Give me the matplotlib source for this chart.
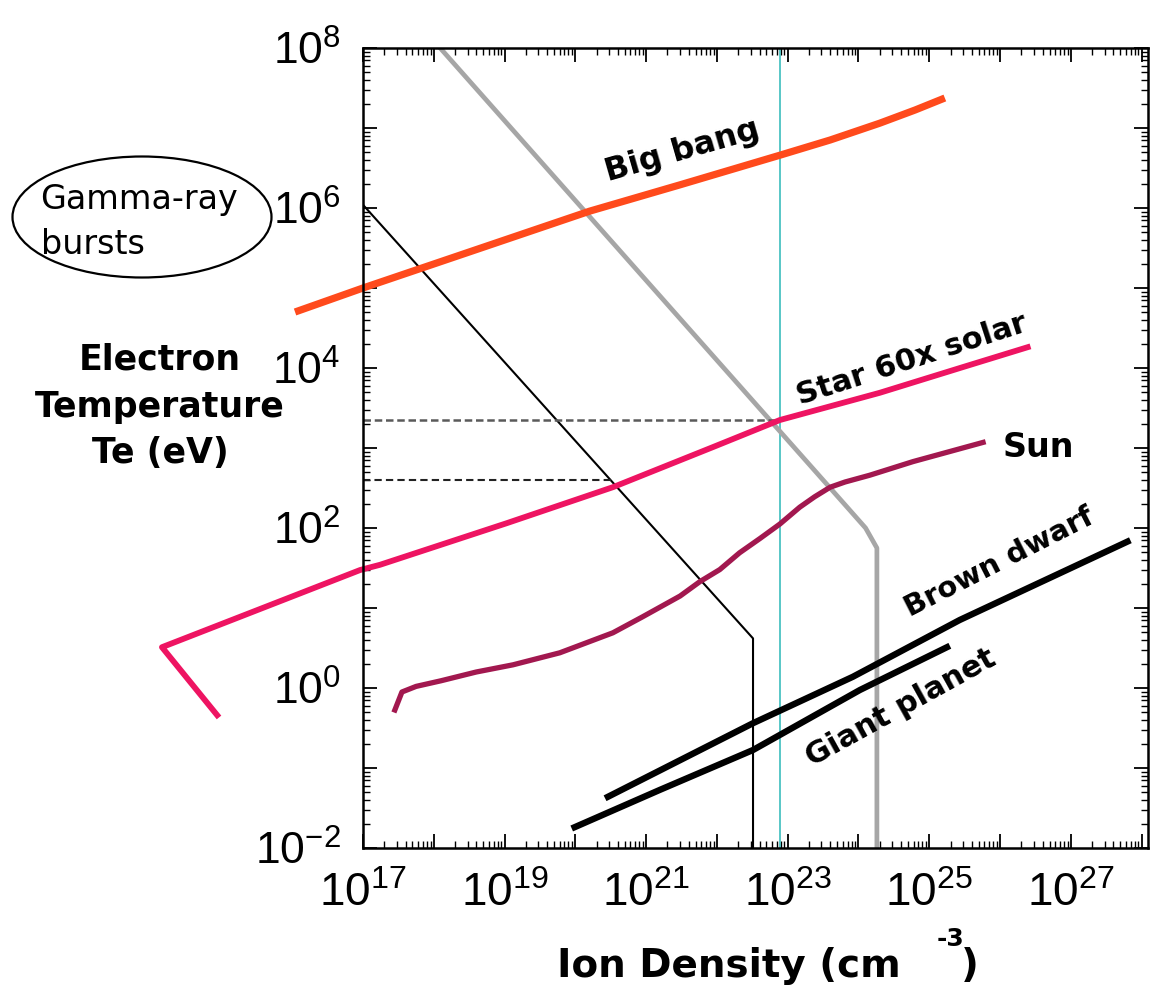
import numpy as np
import matplotlib.pyplot as plt
from matplotlib.patches import Ellipse
from matplotlib.ticker import FixedLocator, FuncFormatter, NullFormatter

plt.rcParams['font.family'] = ['DejaVu Sans']
plt.rcParams['mathtext.default'] = 'regular'

#------------------------------------------------------------------------------#
# Data (log10 of density in cm^-3, log10 of Te in eV)      #
#------------------------------------------------------------------------------#
bigbang_n = [16.04, 17.0, 20.2, 21.48, 22.89, 23.6, 24.3, 24.8, 25.22]
bigbang_T = [4.70, 5.00, 5.96, 6.29, 6.66, 6.85, 7.06, 7.225, 7.375]

star_n = [14.94, 14.16, 16.96, 17.24, 19.03, 20.53, 21.94, 22.89, 24.3, 25.47, 26.39]
star_T = [-0.34, 0.51, 1.475, 1.54, 2.06, 2.51, 3.01, 3.35, 3.69, 4.01, 4.26]

sun_n = [17.45, 17.55, 17.75, 18.1, 18.6, 19.12, 19.78, 20.53, 20.95, 21.48,
         21.76, 22.04, 22.32, 22.61, 22.89, 23.17, 23.38, 23.6, 23.81, 24.16,
         24.77, 25.76]
sun_T = [-0.275, -0.05, 0.02, 0.09, 0.2, 0.29, 0.44, 0.69, 0.89, 1.15,
         1.33, 1.48, 1.69, 1.87, 2.05, 2.26, 2.39, 2.51, 2.575, 2.66,
         2.83, 3.07]

brown_n = [20.46, 22.51, 23.92, 25.43, 27.8]
brown_T = [-1.36, -0.44, 0.14, 0.85, 1.83]

giant_n = [19.99, 21.19, 22.51, 24.02, 25.25]
giant_T = [-1.74, -1.275, -0.775, -0.025, 0.51]

black_n = [17.0, 22.51, 22.51]
black_T = [6.04, 0.62, -2.0]

gray_n = [18.09, 23.8, 24.1, 24.26, 24.26]
gray_T = [8.0, 2.3, 2.0, 1.75, -2.0]

cyan_n = 22.89

dash_T = [3.35, 2.6]
dash_end = [22.89, 20.5]

ylabel_lines = ['Electron', 'Temperature', 'Te (eV)']

# figure is 1151 x 985 px
W, H = 1151, 985
def px(x, y):
    return x / W, 1 - y / H

fig = plt.figure(figsize=(W / 100, H / 100), dpi=100)
ax = fig.add_axes([363 / W, 1 - 848 / H, (1148 - 363) / W, 800 / H])
ax.set_xscale('log')
ax.set_yscale('log')
ax.set_xlim(1e17, 10 ** 28.09)
ax.set_ylim(1e-2, 1e8)

def p(n, T):
    return 10.0 ** np.asarray(n), 10.0 ** np.asarray(T)

ax.axvline(10 ** cyan_n, color='#2bb8b8', lw=1.1)
ax.plot(*p(gray_n, gray_T), color='#a6a6a6', lw=3.4, solid_joinstyle='round')
ax.plot(*p(black_n, black_T), color='black', lw=1.5)

ax.plot(*p([17, dash_end[0]], [dash_T[0]] * 2), color='#5a5a5a', lw=1.8,
        dashes=(3, 1.5))
ax.plot(*p([17, dash_end[1]], [dash_T[1]] * 2), color='#222222', lw=1.5,
        dashes=(3.5, 2))

ax.plot(*p(bigbang_n, bigbang_T), color='#ff4a1c', lw=5.2,
        solid_capstyle='butt', solid_joinstyle='round', clip_on=False)
ax.plot(*p(star_n, star_T), color='#ee1462', lw=4.2,
        solid_joinstyle='round', clip_on=False)
ax.plot(*p(sun_n, sun_T), color='#a2184f', lw=3.8, solid_joinstyle='round',
        clip_on=False)
ax.plot(*p(brown_n, brown_T), color='black', lw=4.6, solid_joinstyle='round')
ax.plot(*p(giant_n, giant_T), color='black', lw=4.6, solid_joinstyle='round')

# curve labels
lab = dict(fontweight='bold', rotation_mode='anchor', ha='left', va='baseline')
ax.text(*p(20.46, 6.33), 'Big bang', rotation=16, fontsize=23, **lab)
ax.text(*p(23.17, 3.54), 'Star 60x solar', rotation=18, fontsize=22, **lab)
ax.text(*p(26.03, 2.89), 'Sun', rotation=0, fontsize=24, **lab)
ax.text(*p(24.73, 0.89), 'Brown dwarf', rotation=27, fontsize=21, **lab)
ax.text(*p(23.34, -0.98), 'Giant planet', rotation=29, fontsize=22, **lab)

# ticks
def fmt(v, pos):
    e = int(round(np.log10(v)))
    return r'$10^{%d}$' % e if e % 2 == 1 else ''

def fmty(v, pos):
    e = int(round(np.log10(v)))
    return r'$10^{%d}$' % e if e % 2 == 0 else ''

ax.xaxis.set_major_locator(FixedLocator([10.0 ** e for e in range(17, 29)]))
ax.xaxis.set_major_formatter(FuncFormatter(fmt))
ax.xaxis.set_minor_locator(FixedLocator([m * 10.0 ** e for e in range(16, 29)
                                         for m in range(2, 10)]))
ax.xaxis.set_minor_formatter(NullFormatter())
ax.yaxis.set_major_locator(FixedLocator([10.0 ** e for e in range(-2, 9)]))
ax.yaxis.set_major_formatter(FuncFormatter(fmty))
ax.yaxis.set_minor_locator(FixedLocator([m * 10.0 ** e for e in range(-2, 8)
                                         for m in range(2, 10)]))
ax.yaxis.set_minor_formatter(NullFormatter())

ax.tick_params(which='both', direction='in', top=True, right=True)
ax.tick_params(which='major', length=10, width=1.3)
ax.tick_params(which='minor', length=5, width=1.0)
ax.tick_params(axis='x', labelsize=33, labelfontfamily='Liberation Sans', pad=17)
ax.tick_params(axis='y', labelsize=32, labelfontfamily='Liberation Sans', pad=16)
for s in ax.spines.values():
    s.set_linewidth(1.8)

# axis titles (y title as three separate lines, centred on one column)
for txt, yy in zip(ylabel_lines, [360, 407, 453]):
    fig.text(*px(160, yy), txt, fontsize=25, fontweight='bold',
             ha='center', va='center')
fig.text(*px(557, 977), 'Ion Density (cm', fontsize=28, fontweight='bold',
         ha='left', va='baseline')
fig.text(*px(937, 946), '-3', fontsize=18, fontweight='bold',
         ha='left', va='baseline')
fig.text(*px(961, 977), ')', fontsize=28, fontweight='bold',
         ha='left', va='baseline')

# gamma-ray burst bubble
fig.add_artist(Ellipse(px(142, 217), 259 / W, 121 / H, transform=fig.transFigure,
                       fill=False, lw=1.6, color='black'))
fig.text(*px(40, 200), 'Gamma-ray', fontsize=24, ha='left', va='center')
fig.text(*px(41, 244), 'bursts', fontsize=24, ha='left', va='center')

fig.savefig('out.png', dpi=100)
